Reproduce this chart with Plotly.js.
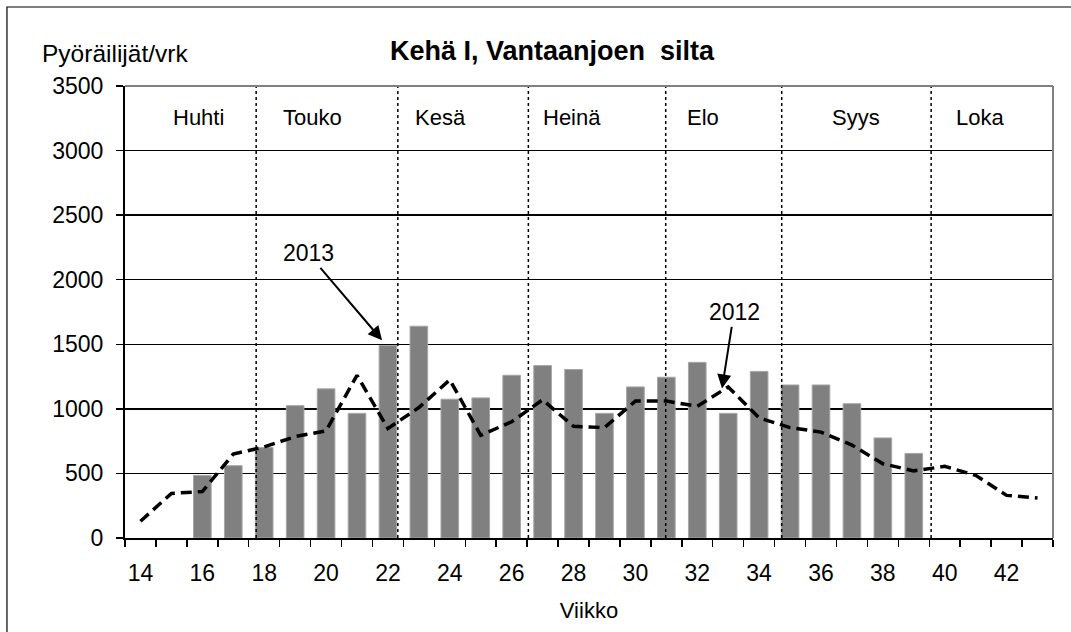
<!DOCTYPE html>
<html>
<head>
<meta charset="utf-8">
<script src="https://cdn.plot.ly/plotly-3.0.1.min.js"></script>
<style>
  html, body { margin: 0; padding: 0; background: #ffffff; }
  #chart { width: 1071px; height: 632px; }
</style>
</head>
<body>
<div id="chart"></div>
<script>
// ---- data ----
const weeks2013 = [16,17,18,19,20,21,22,23,24,25,26,27,28,29,30,31,32,33,34,35,36,37,38,39];
const cyclists2013 = [485,560,700,1025,1155,965,1490,1640,1075,1085,1260,1335,1305,965,1170,1245,1360,965,1290,1185,1185,1040,775,655];

const weeks2012 = [14,15,16,17,18,19,20,21,22,23,24,25,26,27,28,29,30,31,32,33,34,35,36,37,38,39,40,41,42,43];
const cyclists2012 = [130,345,360,650,705,785,830,1260,848,1010,1225,795,900,1070,865,855,1060,1060,1020,1170,930,855,820,720,575,520,555,485,330,310];

const xTickLabels = [14,16,18,20,22,24,26,28,30,32,34,36,38,40,42];
const yTickValues = [0,500,1000,1500,2000,2500,3000,3500];

const monthNames = ["Huhti","Touko","Kesä","Heinä","Elo","Syys","Loka"];
const monthLabelWeek = [15.86,19.55,23.69,27.95,32.19,37.13,41.14];
const monthBoundaryWeek = [17.74,22.32,26.54,30.98,34.73,39.56];

const titleText = "Kehä I, Vantaanjoen  silta";
const yLabelText = "Pyöräilijät/vrk";
const xLabelText = "Viikko";

// ---- chart ----
const FONT = "'Liberation Sans', Arial, sans-serif";

const traces = [
  {
    type: 'bar',
    x: weeks2013,
    y: cyclists2013,
    name: '2013',
    marker: { color: '#808080', line: { color: '#a6a6a6', width: 1 } },
    hoverinfo: 'x+y'
  },
  {
    type: 'scatter',
    mode: 'lines',
    x: weeks2012,
    y: cyclists2012,
    name: '2012',
    line: { color: '#000000', width: 3.5, dash: '11px,6px' },
    hoverinfo: 'x+y'
  }
];

const allWeeks = weeks2012;
const minorTicks = allWeeks.map(w => w - 0.5).concat([allWeeks[allWeeks.length - 1] + 0.5]);

const shapes = [];
monthBoundaryWeek.forEach(b => {
  shapes.push({
    type: 'line', xref: 'x', yref: 'paper', x0: b, x1: b, y0: 0, y1: 1,
    line: { color: '#000000', width: 1.5, dash: 'dot' }, layer: 'above'
  });
});
// plot-area frame (top & right, gray)
shapes.push({ type: 'line', xref: 'paper', yref: 'paper', x0: 0, x1: 1, y0: 1, y1: 1,
  line: { color: '#808080', width: 2 }, layer: 'above' });
shapes.push({ type: 'line', xref: 'paper', yref: 'paper', x0: 1, x1: 1, y0: 0, y1: 1,
  line: { color: '#808080', width: 2 }, layer: 'above' });
// outer chart border
shapes.push({ type: 'rect', xref: 'paper', yref: 'paper',
  x0: -0.1272, x1: 1.3, y0: -0.5, y1: 1.1748,
  line: { color: '#000000', width: 1.2 }, layer: 'below' });

const annotations = [];
monthNames.forEach((m, i) => {
  annotations.push({
    text: m, x: monthLabelWeek[i], y: 3253, xref: 'x', yref: 'y',
    showarrow: false, xanchor: 'center', yanchor: 'middle',
    font: { family: FONT, size: 22, color: '#000000' }
  });
});
annotations.push({
  text: yLabelText, xref: 'paper', yref: 'paper',
  x: (40 - 125) / 928, y: (538 - 53) / 452, xanchor: 'left', yanchor: 'middle',
  showarrow: false, font: { family: FONT, size: 24.5, color: '#000000' }
});
annotations.push({
  text: '2013', x: 21.81, y: 1531, xref: 'x', yref: 'y',
  ax: -74, ay: -87, showarrow: true, arrowhead: 2, arrowsize: 1.4, arrowwidth: 2,
  arrowcolor: '#000000', standoff: 0,
  font: { family: FONT, size: 23, color: '#000000' }
});
annotations.push({
  text: '2012', x: 32.80, y: 1158, xref: 'x', yref: 'y',
  ax: 12, ay: -76, showarrow: true, arrowhead: 2, arrowsize: 1.4, arrowwidth: 2,
  arrowcolor: '#000000', standoff: 0,
  font: { family: FONT, size: 23, color: '#000000' }
});

const layout = {
  width: 1071,
  height: 632,
  paper_bgcolor: '#ffffff',
  plot_bgcolor: '#ffffff',
  showlegend: false,
  margin: { l: 125, r: 18, t: 86, b: 94, pad: 0 },
  bargap: 0.43,
  font: { family: FONT, size: 22, color: '#000000' },
  title: {
    text: '<b>' + titleText + '</b>',
    x: 552 / 1071, xanchor: 'center',
    y: 1 - 51 / 632, yanchor: 'middle', yref: 'container',
    font: { family: FONT, size: 27, color: '#000000' }
  },
  xaxis: {
    range: [13.5, 43.5],
    tickmode: 'array',
    tickvals: xTickLabels,
    ticktext: xTickLabels.map(String),
    ticks: '',
    ticklabelstandoff: 13,
    showgrid: false,
    zeroline: false,
    showline: true,
    linecolor: '#000000',
    linewidth: 2,
    tickfont: { family: FONT, size: 23, color: '#000000' },
    minor: {
      tickmode: 'array',
      tickvals: minorTicks,
      ticks: 'outside',
      ticklen: 7,
      tickwidth: 1.5,
      tickcolor: '#000000',
      showgrid: false
    },
    title: { text: xLabelText, font: { family: FONT, size: 22, color: '#000000' }, standoff: 18 },
    fixedrange: true
  },
  yaxis: {
    range: [0, 3500],
    tickmode: 'array',
    tickvals: yTickValues,
    ticktext: yTickValues.map(String),
    ticks: 'outside',
    ticklen: 7,
    tickwidth: 1.5,
    tickcolor: '#000000',
    ticklabelstandoff: 8,
    showgrid: true,
    gridcolor: '#000000',
    gridwidth: 1.5,
    zeroline: false,
    showline: true,
    linecolor: '#000000',
    linewidth: 2,
    tickfont: { family: FONT, size: 23, color: '#000000' },
    fixedrange: true
  },
  shapes: shapes,
  annotations: annotations
};

Plotly.newPlot('chart', traces, layout, { displayModeBar: false, staticPlot: true });
</script>
</body>
</html>
